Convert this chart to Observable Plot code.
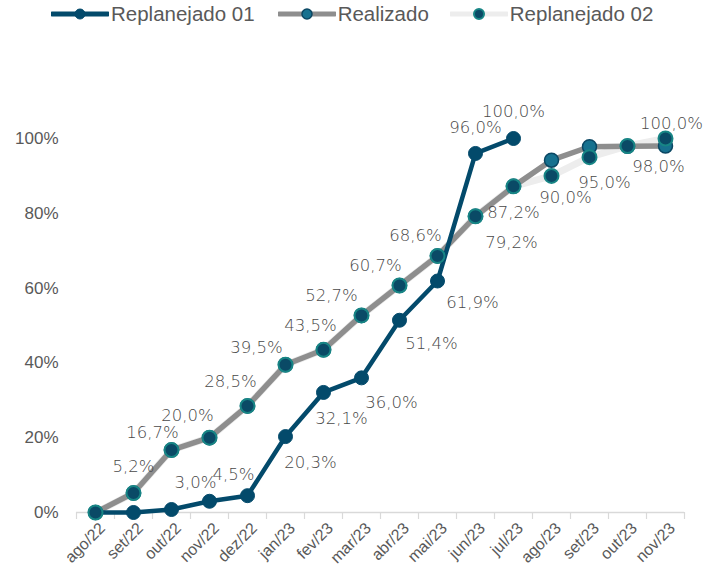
<!DOCTYPE html>
<html><head><meta charset="utf-8">
<script src="https://cdn.jsdelivr.net/npm/d3@7"></script>
<script src="https://cdn.jsdelivr.net/npm/@observablehq/plot@0.6"></script>
<style>
body{margin:0;background:#fff;width:718px;height:571px;overflow:hidden}
#legend{display:flex;justify-content:flex-start;align-items:center;height:30px;font:20.5px "Liberation Sans",Arial,sans-serif;color:#595959;padding-left:51px;box-sizing:border-box;padding-bottom:2px}
.item{display:flex;align-items:center;margin-right:21px}
.item:first-child{margin-right:23px}
.item svg{margin-right:2px}
</style></head><body>
<div id="legend"></div>
<div id="chart"></div>
<script>
// ---- data ----
const months = ["ago/22","set/22","out/22","nov/22","dez/22","jan/23","fev/23","mar/23","abr/23","mai/23","jun/23","jul/23","ago/23","set/23","out/23","nov/23"];
const replanejado01 = [0, 0, 0.8, 3.0, 4.5, 20.3, 32.1, 36.0, 51.4, 61.9, 96.0, 100.0, null, null, null, null];
const realizado     = [0, 5.2, 16.7, 20.0, 28.5, 39.5, 43.5, 52.7, 60.7, 68.6, 79.2, 87.2, 94.2, 97.8, 97.9, 98.0];
const replanejado02 = [0, 5.2, 16.7, 20.0, 28.5, 39.5, 43.5, 52.7, 60.7, 68.6, 79.2, 87.2, 90.0, 95.0, 98.0, 100.0];
const yTicks = [0, 20, 40, 60, 80, 100];
const seriesNames = ["Replanejado 01", "Realizado", "Replanejado 02"];
// which points carry a value label (indices into months)
const labeled01 = [3,4,5,6,7,8,9,10,11];
const labeledRealizado = [1,2,3,4,5,6,7,8,9];
const labeled02 = [10,11,12,13,14,15];

// ---- styles ----
const sty = {
  "Replanejado 01": {line:"#034a6b", lw:4.5, fill:"#034a6b", stroke:"#034a6b", sw:1},
  "Realizado":      {line:"#8e8e8e", lw:5.5, fill:"#17718f", stroke:"#0b4763", sw:1.5},
  "Replanejado 02": {line:"#ededed", lw:7,   fill:"#0a4a66", stroke:"#178585", sw:2}
};
// label offsets (px) relative to the point
const off = {
  "Replanejado 01": {3:[-14,-19],4:[-14,-21],5:[25,26],6:[18,26],7:[30,25],8:[32,23],9:[35,22],10:[0,-26],11:[0,-27]},
  "Realizado": {1:[0,-26],2:[-19,-17],3:[-22,-22],4:[-17,-24],5:[-29,-17],6:[-13,-24],7:[-30,-20],8:[-24,-20],9:[-22,-20]},
  "Replanejado 02": {10:[36,26],11:[0,26],12:[14,22],13:[15,26],14:[31,21],15:[6,-15]}
};

const valuesBy = {"Replanejado 01": replanejado01, "Realizado": realizado, "Replanejado 02": replanejado02};
const labeledBy = {"Replanejado 01": labeled01, "Realizado": labeledRealizado, "Replanejado 02": labeled02};
const rows = s => valuesBy[s].map((v,i)=>({series:s, month:months[i], i, value:v})).filter(d=>d.value!=null);
const fmt = v => v.toFixed(1).replace(".", ",") + "%";

// ---- legend ----
const leg = document.getElementById("legend");
seriesNames.forEach(s => {
  const st = sty[s];
  const it = document.createElement("div"); it.className = "item";
  it.innerHTML = `<svg width="58" height="20"><line x1="1" y1="10" x2="57" y2="10" stroke="${st.line}" stroke-width="5" stroke-linecap="round"/><circle cx="29" cy="10" r="5" fill="${st.fill}" stroke="${st.stroke}" stroke-width="${st.sw}"/></svg><span>${s}</span>`;
  leg.appendChild(it);
});

// ---- chart ----
const W = 718, H = 541, ML = 76, MR = 34;
const step = (W - ML - MR) / months.length;
const dataFont = "'DejaVu Sans', sans-serif";
const marks = [
  Plot.ruleY([0], {stroke:"#d9d9d9", strokeWidth:1.5}),
  Plot.ruleX(months, {x:d=>d, y1:0, y2:0, insetBottom:-7, dx:-step/2, stroke:"#d9d9d9", strokeWidth:1.2}),
  Plot.ruleX([months[months.length-1]], {x:d=>d, y1:0, y2:0, insetBottom:-7, dx:step/2, stroke:"#d9d9d9", strokeWidth:1.2}),
  Plot.text(months, {x:d=>d, y:0, text:d=>d, rotate:-45, textAnchor:"end", dx:7, dy:13, fontSize:16, fill:"#595959", fontFamily:"'Liberation Sans', Arial, sans-serif"}),
  Plot.axisY({ticks:yTicks, tickSize:0, tickPadding:18, tickFormat:d=>d+"%", label:null, fontSize:17, fontFamily:"'Liberation Sans', Arial, sans-serif", fill:"#595959"})
];
["Replanejado 02","Realizado","Replanejado 01"].forEach(s => {
  marks.push(Plot.line(rows(s), {x:"month", y:"value", stroke:sty[s].line, strokeWidth:sty[s].lw, strokeLinejoin:"round", strokeLinecap:"round"}));
});
["Replanejado 01","Realizado","Replanejado 02"].forEach(s => {
  marks.push(Plot.dot(rows(s), {x:"month", y:"value", r:7, fill:sty[s].fill, stroke:sty[s].stroke, strokeWidth:sty[s].sw}));
});
seriesNames.forEach(s => {
  labeledBy[s].forEach(i => {
    const o = off[s][i] || [0,-20];
    marks.push(Plot.text([{month:months[i], value:valuesBy[s][i]}], {x:"month", y:"value", text:d=>fmt(d.value), dx:o[0], dy:o[1], fontSize:16.5, fontFamily:dataFont, fontWeight:300, fill:"#484848"}));
  });
});

const chart = Plot.plot({
  width:W, height:H, marginLeft:ML, marginRight:MR, marginTop:108, marginBottom:59,
  x:{type:"point", domain:months, padding:0.5, axis:null},
  y:{domain:[0,100], axis:null},
  style:{background:"white", color:"#595959", overflow:"visible"},
  marks
});
document.getElementById("chart").appendChild(chart);
</script>
</body></html>
